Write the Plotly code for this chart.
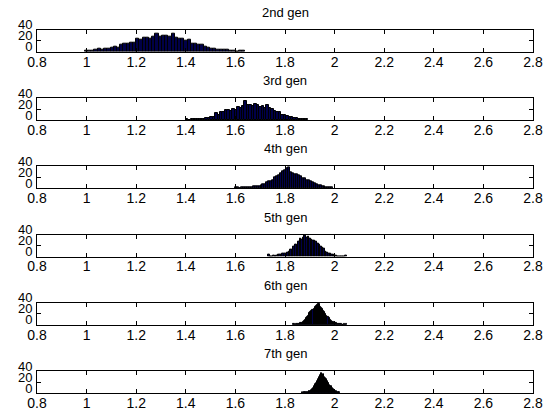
import plotly.graph_objects as go

# ---------------- data ----------------
titles = ["2nd gen", "3rd gen", "4th gen", "5th gen", "6th gen", "7th gen"]
x_ticks = [0.8, 1.0, 1.2, 1.4, 1.6, 1.8, 2.0, 2.2, 2.4, 2.6, 2.8]
x_tick_labels = ["0.8", "1", "1.2", "1.4", "1.6", "1.8", "2", "2.2", "2.4", "2.6", "2.8"]
y_ticks = [0, 20, 40]
y_tick_labels = ["0", "20", "40"]

# histogram bin ranges (lowest edge, highest edge) for each generation
gen2_range = [0.993, 1.640]
gen3_range = [1.400, 1.893]
gen4_range = [1.598, 1.995]
gen5_range = [1.733, 2.049]
gen6_range = [1.833, 2.049]
gen7_range = [1.867, 2.022]

gen2_counts = [2, 1, 2, 3, 5, 4, 6, 5, 8, 9, 8, 12, 15, 14, 17, 16, 24, 21, 25, 26,
               24, 28, 33, 27, 29, 30, 28, 33, 25, 24, 23, 20, 21, 15, 14, 13, 12, 10, 8, 6,
               5, 3, 4, 3, 3, 1, 2, 0, 1, 1]
gen3_counts = [1, 0, 1, 1, 1, 2, 1, 2, 3, 4, 5, 6, 12, 10, 15, 14, 18, 19, 17, 20,
               19, 24, 22, 26, 34, 28, 27, 25, 29, 28, 23, 25, 22, 27, 21, 20, 16, 14, 15, 10,
               9, 8, 6, 5, 4, 4, 2, 2, 1, 1]
gen4_counts = [1, 1, 0, 1, 1, 1, 1, 2, 2, 3, 3, 4, 4, 6, 7, 8, 11, 13, 12, 15,
               20, 22, 24, 28, 31, 33, 37, 39, 30, 27, 26, 25, 23, 21, 19, 18, 15, 14, 12, 11,
               9, 8, 6, 6, 4, 3, 2, 2, 1, 1]
gen5_counts = [3, 0, 0, 1, 0, 2, 3, 4, 3, 5, 6, 5, 8, 10, 12, 13, 18, 22, 20, 28,
               33, 31, 35, 38, 34, 37, 33, 31, 29, 30, 27, 24, 22, 19, 16, 14, 10, 7, 6, 5,
               4, 4, 2, 1, 0, 0, 0, 0, 0, 2]
gen6_counts = [1, 1, 0, 1, 2, 2, 3, 3, 4, 6, 7, 9, 12, 15, 17, 21, 24, 26, 28, 30,
               32, 35, 37, 39, 38, 33, 31, 29, 26, 23, 20, 17, 14, 12, 10, 8, 6, 5, 4, 3,
               3, 2, 2, 1, 1, 1, 0, 1, 0, 1]
gen7_counts = [1, 0, 1, 1, 1, 1, 2, 2, 2, 3, 3, 4, 5, 6, 8, 10, 12, 14, 16, 19,
               22, 25, 27, 30, 33, 36, 35, 33, 34, 30, 28, 27, 25, 21, 19, 18, 15, 13, 12, 10,
               9, 7, 6, 5, 4, 3, 2, 2, 1, 1]

ranges = [gen2_range, gen3_range, gen4_range, gen5_range, gen6_range, gen7_range]
counts = [gen2_counts, gen3_counts, gen4_counts, gen5_counts, gen6_counts, gen7_counts]

# ---------------- layout geometry (pixels) ----------------
W, H = 553, 417
ML, MR = 37, 20
box_h = 22.0
tops = [29.7 + 68.3 * k for k in range(6)]
FONT = "Liberation Sans, Arial, sans-serif"

fig = go.Figure()
annotations = []
layout_axes = {}
for k in range(6):
    lo, hi = ranges[k]
    c = counts[k]
    n = len(c)
    bw = (hi - lo) / n
    centers = [lo + (i + 0.5) * bw for i in range(n)]
    xa = "x" if k == 0 else f"x{k+1}"
    ya = "y" if k == 0 else f"y{k+1}"
    fig.add_trace(go.Bar(
        x=centers, y=c, width=bw, xaxis=xa, yaxis=ya,
        marker=dict(color="#000048", line=dict(color="black", width=1)),
        showlegend=False, hoverinfo="x+y",
    ))
    top = tops[k]
    bot = top + box_h
    d0 = 1 - bot / H
    d1 = 1 - top / H
    xkey = "xaxis" if k == 0 else f"xaxis{k+1}"
    ykey = "yaxis" if k == 0 else f"yaxis{k+1}"
    layout_axes[xkey] = dict(
        domain=[0, 1], anchor=ya, range=[0.8, 2.8],
        tickmode="array", tickvals=x_ticks, ticktext=x_tick_labels,
        ticks="inside", ticklen=4, tickwidth=1, tickcolor="black",
        showline=True, linecolor="black", linewidth=1, mirror="ticks",
        showgrid=False, zeroline=False, automargin=False,
        tickfont=dict(family=FONT, size=14, color="black"),
        ticklabelstandoff=-3,
        fixedrange=True,
    )
    layout_axes[ykey] = dict(
        domain=[d0, d1], anchor=xa, range=[0, 40],
        tickmode="array", tickvals=y_ticks, ticktext=y_tick_labels,
        ticks="inside", ticklen=4, tickwidth=1, tickcolor="black",
        showline=True, linecolor="black", linewidth=1, mirror="ticks",
        showgrid=False, zeroline=False, automargin=False,
        tickfont=dict(family=FONT, size=13, color="black"),
        ticklabelshift=-5, ticklabelstandoff=1,
        fixedrange=True,
    )
    annotations.append(dict(
        text=titles[k], x=0.5, xref="paper", y=d1, yref="paper",
        xanchor="center", yanchor="bottom", yshift=8, showarrow=False,
        font=dict(family=FONT, size=13, color="black"),
    ))

fig.update_layout(
    width=W, height=H,
    margin=dict(l=ML, r=MR, t=0, b=0, pad=0),
    paper_bgcolor="white", plot_bgcolor="white",
    template="none", bargap=0, barmode="overlay",
    annotations=annotations, showlegend=False,
    **layout_axes,
)

fig.write_html(
    "out.html",
    config={"displayModeBar": False},
    post_script="document.body.style.margin='0';document.body.style.overflow='hidden';",
)
